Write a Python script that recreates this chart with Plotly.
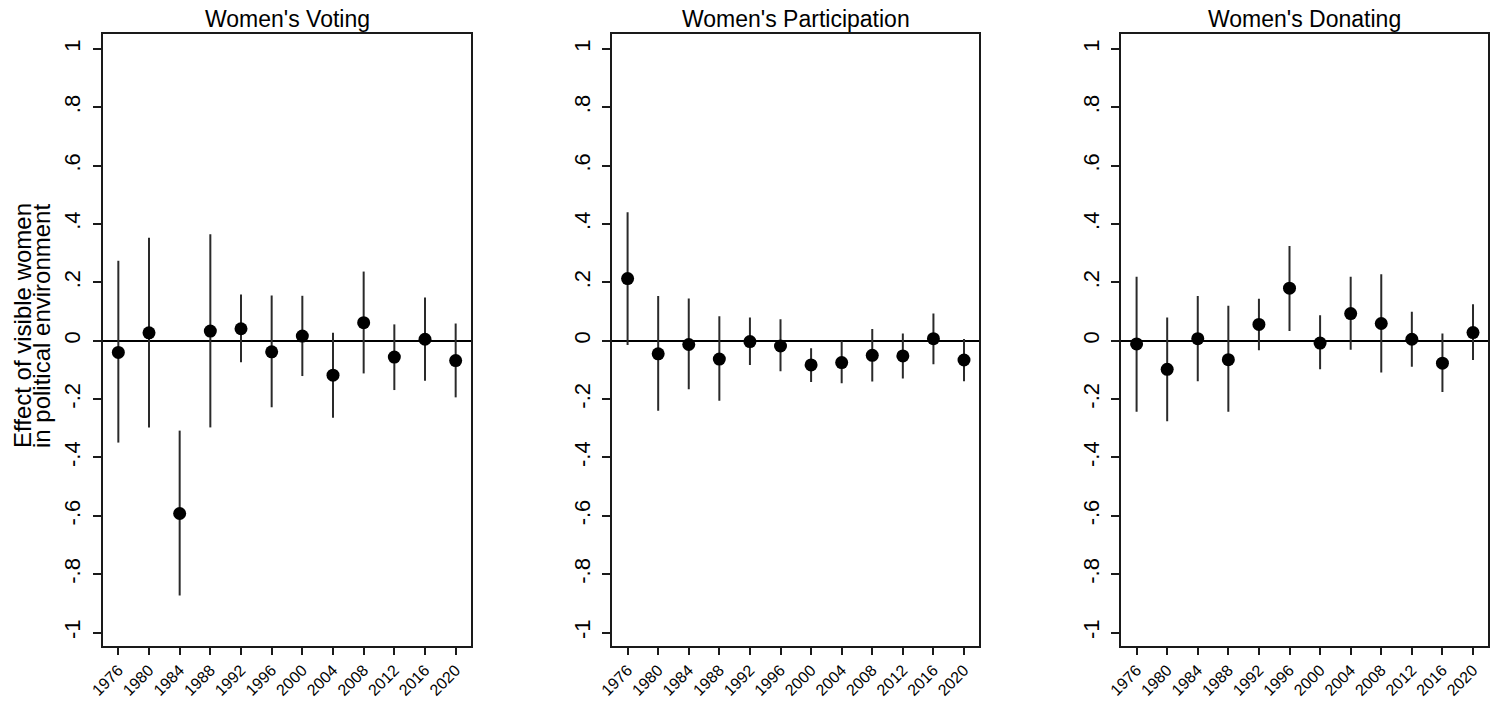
import plotly.graph_objects as go

# Election years on the x axis
years = [1976, 1980, 1984, 1988, 1992, 1996, 2000, 2004, 2008, 2012, 2016, 2020]

# Women's voting: point estimates and 95% CI bounds
voting_est = [-0.040, 0.027, -0.592, 0.033, 0.041, -0.038, 0.016, -0.118, 0.062, -0.056, 0.005, -0.068]
voting_hi = [0.274, 0.353, -0.308, 0.365, 0.158, 0.155, 0.154, 0.027, 0.237, 0.056, 0.148, 0.059]
voting_lo = [-0.349, -0.297, -0.873, -0.297, -0.074, -0.228, -0.121, -0.264, -0.112, -0.169, -0.137, -0.194]

# Women's participation
partic_est = [0.213, -0.045, -0.013, -0.063, -0.003, -0.018, -0.083, -0.075, -0.050, -0.052, 0.007, -0.066]
partic_hi = [0.440, 0.153, 0.145, 0.084, 0.080, 0.074, -0.026, 0.000, 0.040, 0.025, 0.093, 0.006]
partic_lo = [-0.015, -0.240, -0.166, -0.206, -0.083, -0.105, -0.141, -0.146, -0.140, -0.129, -0.081, -0.139]

# Women's donating
donate_est = [-0.011, -0.098, 0.007, -0.065, 0.056, 0.180, -0.008, 0.093, 0.059, 0.005, -0.077, 0.028]
donate_hi = [0.219, 0.080, 0.153, 0.120, 0.144, 0.325, 0.087, 0.219, 0.228, 0.099, 0.025, 0.125]
donate_lo = [-0.243, -0.276, -0.139, -0.243, -0.033, 0.033, -0.098, -0.031, -0.109, -0.089, -0.176, -0.066]

titles = ["Women's Voting", "Women's Participation", "Women's Donating"]
y_tick_vals = [-1, -0.8, -0.6, -0.4, -0.2, 0, 0.2, 0.4, 0.6, 0.8, 1]
y_tick_text = ["-1", "-.8", "-.6", "-.4", "-.2", "0", ".2", ".4", ".6", ".8", "1"]
y_title_lines = ["Effect of visible women", "in political environment"]

W, H = 1491, 701
FONT = "Liberation Sans, Arial, Helvetica, sans-serif"
INK = "#1a1a1a"

# Panel placement in pixels (left, right) and shared top/bottom
panels_px = [(103, 471), (612.3, 979.3), (1121.3, 1488.3)]
top_px, bottom_px = 34.3, 645.7
y_dom = [1 - bottom_px / H, 1 - top_px / H]

series = [
    (voting_est, voting_lo, voting_hi),
    (partic_est, partic_lo, partic_hi),
    (donate_est, donate_lo, donate_hi),
]

fig = go.Figure()
layout = dict(
    width=W, height=H,
    margin=dict(l=0, r=0, t=0, b=0),
    paper_bgcolor="white", plot_bgcolor="white",
    showlegend=False,
    font=dict(family=FONT, color="black"),
    annotations=[],
)

for i, ((est, lo, hi), (lpx, rpx), title) in enumerate(zip(series, panels_px, titles)):
    sfx = "" if i == 0 else str(i + 1)
    up = [h - e for h, e in zip(hi, est)]
    down = [e - l for e, l in zip(est, lo)]
    fig.add_trace(go.Scatter(
        x=years, y=est, mode="markers",
        marker=dict(size=13, color="black"),
        error_y=dict(type="data", symmetric=False, array=up, arrayminus=down,
                     width=0, thickness=2, color="#2a2a2a"),
        xaxis="x" + sfx, yaxis="y" + sfx,
    ))
    layout["xaxis" + sfx] = dict(
        domain=[lpx / W, rpx / W], anchor="y" + sfx,
        range=[1974, 2022], tickvals=years, ticktext=[str(y) for y in years],
        tickangle=-45, ticks="outside", ticklen=7, tickwidth=1.5, tickcolor=INK,
        showline=True, linecolor=INK, linewidth=2, mirror=True,
        showgrid=False, zeroline=False, automargin=False,
        ticklabelstandoff=0,
        tickfont=dict(size=16, family=FONT, color="black"),
    )
    layout["yaxis" + sfx] = dict(
        domain=y_dom, anchor="x" + sfx,
        range=[-1.045, 1.05], tickvals=y_tick_vals, ticktext=y_tick_text,
        tickangle=-90, ticks="outside", ticklen=8, tickwidth=1.5, tickcolor=INK,
        showline=True, linecolor=INK, linewidth=2, mirror=True,
        showgrid=False, zeroline=True, zerolinecolor="black", zerolinewidth=2,
        automargin=False, ticklabelstandoff=4,
        tickfont=dict(size=22, family=FONT, color="black"),
    )
    layout["annotations"].append(dict(
        text=title, xref="paper", yref="paper",
        x=(lpx + rpx) / 2 / W, y=1 - 19 / H, xanchor="center", yanchor="middle",
        showarrow=False, font=dict(size=23, family=FONT, color="black"),
    ))

# Two-line y-axis title, drawn as rotated lines beside the first panel
for j, (line, xpx) in enumerate(zip(y_title_lines, [22, 41])):
    layout["annotations"].append(dict(
        text=line, xref="paper", yref="paper",
        x=xpx / W, y=1 - 326 / H, xanchor="center", yanchor="middle",
        textangle=-90, showarrow=False,
        font=dict(size=24, family=FONT, color="black"),
    ))

fig.update_layout(**layout)
fig.write_html("out.html", config={"displayModeBar": False})
